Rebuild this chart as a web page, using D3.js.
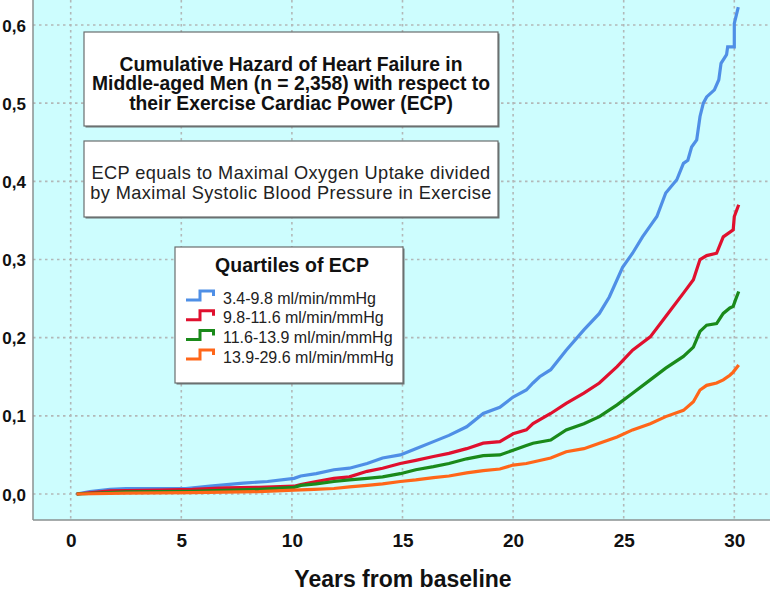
<!DOCTYPE html>
<html>
<head>
<meta charset="utf-8">
<script src="https://cdn.jsdelivr.net/npm/d3@7"></script>
<style>
  html, body { margin: 0; padding: 0; background: #ffffff; }
  svg { display: block; }
  text { font-family: "Liberation Sans", Arial, sans-serif; }
</style>
</head>
<body>
<svg id="chart" width="772" height="591"></svg>
<script>
// ---------------- DATA ----------------
const xTicks = [0, 5, 10, 15, 20, 25, 30];
const yTicks = [0, 0.1, 0.2, 0.3, 0.4, 0.5, 0.6];
const yTickLabels = ["0,0", "0,1", "0,2", "0,3", "0,4", "0,5", "0,6"];
const xAxisTitle = "Years from baseline";
const titleLines = [
  "Cumulative Hazard of Heart Failure in",
  "Middle-aged Men (n = 2,358) with respect to",
  "their Exercise Cardiac Power (ECP)"
];
const noteLines = [
  "ECP equals to Maximal Oxygen Uptake divided",
  "by Maximal Systolic Blood Pressure in Exercise"
];
const legendTitle = "Quartiles of ECP";
const seriesNames = [
  "3.4-9.8 ml/min/mmHg",
  "9.8-11.6 ml/min/mmHg",
  "11.6-13.9 ml/min/mmHg",
  "13.9-29.6 ml/min/mmHg"
];
const seriesColors = ["#4f8fe6", "#e0102e", "#1a8a1a", "#ff6619"];

// [years, cumulative hazard]
const q1 = [[0.27,0],[0.87,0.003],[1.78,0.006],[2.5,0.007],[4.0,0.007],[5.2,0.007],[6.3,0.010],[7.8,0.014],[8.9,0.016],[10.1,0.020],[10.4,0.023],[11.1,0.026],[11.9,0.031],[12.6,0.033],[13.4,0.039],[14.1,0.046],[14.9,0.050],[15.6,0.058],[16.4,0.067],[17.1,0.075],[17.9,0.086],[18.65,0.103],[19.4,0.111],[20.0,0.124],[20.6,0.133],[20.9,0.142],[21.2,0.150],[21.7,0.159],[22.4,0.184],[23.2,0.210],[23.9,0.231],[24.35,0.252],[24.95,0.290],[25.4,0.308],[25.85,0.329],[26.2,0.343],[26.5,0.355],[26.9,0.385],[27.4,0.402],[27.7,0.423],[27.9,0.427],[28.07,0.444],[28.3,0.453],[28.45,0.483],[28.6,0.500],[28.75,0.508],[29.1,0.517],[29.3,0.530],[29.4,0.551],[29.65,0.562],[29.7,0.572],[30.0,0.572],[30.0,0.602],[30.18,0.623]];
const q2 = [[0.27,0],[1.78,0.004],[4.0,0.005],[5.5,0.006],[7.0,0.008],[8.5,0.0085],[10.1,0.010],[10.4,0.012],[11.1,0.016],[11.9,0.020],[12.6,0.022],[13.4,0.029],[14.1,0.033],[14.9,0.039],[15.6,0.043],[16.4,0.048],[17.1,0.052],[17.9,0.058],[18.65,0.065],[19.4,0.067],[20.0,0.077],[20.6,0.082],[20.9,0.090],[21.7,0.103],[22.4,0.116],[23.2,0.129],[23.9,0.142],[24.7,0.163],[25.4,0.184],[26.2,0.201],[26.9,0.227],[27.7,0.257],[28.15,0.274],[28.45,0.300],[28.75,0.305],[29.2,0.308],[29.5,0.329],[29.95,0.338],[30.0,0.355],[30.2,0.370]];
const q3 = [[0.27,0],[2.5,0.0026],[5.5,0.0035],[8.5,0.006],[10.1,0.0085],[10.4,0.011],[11.1,0.013],[11.9,0.016],[12.6,0.018],[13.4,0.020],[14.1,0.022],[14.9,0.026],[15.6,0.031],[16.4,0.035],[17.1,0.039],[17.9,0.045],[18.65,0.049],[19.4,0.050],[20.0,0.056],[20.6,0.062],[20.9,0.065],[21.7,0.069],[22.4,0.082],[23.2,0.090],[23.9,0.099],[24.7,0.114],[25.4,0.129],[26.2,0.146],[26.9,0.161],[27.7,0.176],[28.15,0.188],[28.45,0.208],[28.75,0.216],[29.2,0.218],[29.5,0.231],[29.8,0.238],[29.95,0.240],[30.05,0.248],[30.2,0.259]];
const q4 = [[0.27,0],[2.5,0.001],[5.5,0.0017],[8.5,0.003],[10.1,0.005],[11.0,0.006],[11.9,0.007],[12.6,0.009],[13.4,0.011],[14.1,0.013],[14.9,0.016],[15.6,0.018],[16.4,0.021],[17.1,0.023],[17.9,0.027],[18.65,0.030],[19.4,0.032],[20.0,0.037],[20.6,0.039],[20.9,0.041],[21.7,0.046],[22.4,0.054],[23.2,0.058],[23.9,0.065],[24.7,0.073],[25.4,0.082],[26.2,0.090],[26.9,0.099],[27.7,0.107],[28.15,0.118],[28.45,0.133],[28.75,0.139],[29.2,0.142],[29.5,0.146],[29.8,0.152],[29.95,0.156],[30.2,0.165]];
const seriesData = [q1, q2, q3, q4];

// ---------------- LAYOUT ----------------
const svg = d3.select("#chart");
const plot = { left: 33, right: 770, top: 0, bottom: 520 };

const x = d3.scaleLinear().domain([0, 30]).range([70.7, 734.3]);
const y = d3.scaleLinear().domain([0, 0.6]).range([494, 25]);

// plot background
svg.append("rect")
  .attr("x", plot.left).attr("y", plot.top)
  .attr("width", plot.right - plot.left).attr("height", plot.bottom - plot.top)
  .attr("fill", "#cdfdfe");

// grid
const grid = svg.append("g").attr("stroke", "#b2b8b8").attr("stroke-width", 1.6)
  .attr("stroke-dasharray", "2.5,3.5");
grid.selectAll("line.v").data(xTicks).join("line")
  .attr("x1", d => x(d)).attr("x2", d => x(d))
  .attr("y1", plot.top).attr("y2", plot.bottom);
grid.selectAll("line.h").data(yTicks).join("line")
  .attr("x1", plot.left).attr("x2", plot.right)
  .attr("y1", d => y(d)).attr("y2", d => y(d));

// axes (D3 axes, no tick marks; styled to match)
const xAxis = d3.axisBottom(x).tickValues(xTicks).tickSize(0).tickPadding(10)
  .tickFormat(d3.format("d"));
const gx = svg.append("g").attr("transform", `translate(0,${plot.bottom})`).call(xAxis);
gx.select(".domain").remove();
gx.selectAll("text").attr("font-family", "Liberation Sans, Arial, sans-serif")
  .attr("font-size", 19).attr("font-weight", "bold").attr("fill", "#111")
  .attr("dy", null).attr("y", 27);

const yAxis = d3.axisLeft(y).tickValues(yTicks).tickSize(0).tickPadding(6)
  .tickFormat((d, i) => yTickLabels[i]);
const gy = svg.append("g").attr("transform", `translate(${plot.left},0)`).call(yAxis);
gy.select(".domain").remove();
gy.selectAll("text").attr("font-family", "Liberation Sans, Arial, sans-serif")
  .attr("font-size", 17).attr("font-weight", "bold").attr("fill", "#111")
  .attr("x", -7).attr("dy", "0.36em");

// axis frame lines
svg.append("line").attr("x1", plot.left).attr("x2", plot.left)
  .attr("y1", plot.top).attr("y2", plot.bottom)
  .attr("stroke", "#8a9090").attr("stroke-width", 1.5);
svg.append("line").attr("x1", plot.left).attr("x2", plot.right)
  .attr("y1", plot.bottom).attr("y2", plot.bottom)
  .attr("stroke", "#8a9090").attr("stroke-width", 1.5);

// x axis title
svg.append("text").attr("x", 403).attr("y", 587).attr("text-anchor", "middle")
  .attr("font-size", 23).attr("font-weight", "bold").attr("fill", "#111")
  .text(xAxisTitle);

// curves
const line = d3.line().x(d => x(d[0])).y(d => y(d[1])).curve(d3.curveLinear);
svg.append("g").selectAll("path").data(seriesData).join("path")
  .attr("d", line)
  .attr("fill", "none")
  .attr("stroke", (d, i) => seriesColors[i])
  .attr("stroke-width", 3.2)
  .attr("stroke-linejoin", "miter");

// boxes helper
function box(x0, y0, x1, y1) {
  svg.append("rect").attr("x", x0 + 1.5).attr("y", y0 + 1.5)
    .attr("width", x1 - x0).attr("height", y1 - y0).attr("fill", "#6f7373");
  svg.append("rect").attr("x", x0).attr("y", y0)
    .attr("width", x1 - x0).attr("height", y1 - y0)
    .attr("fill", "#ffffff").attr("stroke", "#6a6e6e").attr("stroke-width", 1.2);
}

// title box
box(84, 32, 498, 126);
svg.append("g").selectAll("text").data(titleLines).join("text")
  .attr("x", 291).attr("y", (d, i) => 70.5 + i * 19.7)
  .attr("text-anchor", "middle").attr("font-size", 19.3).attr("font-weight", "bold")
  .attr("fill", "#111").text(d => d);

// note box
box(84, 141, 498, 217);
svg.append("g").selectAll("text").data(noteLines).join("text")
  .attr("x", 291).attr("y", (d, i) => 178.5 + i * 20.6)
  .attr("text-anchor", "middle").attr("font-size", 18.2)
  .attr("letter-spacing", 0.4)
  .attr("fill", "#222").text(d => d);

// legend box
box(175, 247, 403, 383);
svg.append("text").attr("x", 292).attr("y", 272).attr("text-anchor", "middle")
  .attr("font-size", 19.5).attr("font-weight", "bold").attr("fill", "#111")
  .text(legendTitle);
const lg = svg.append("g").selectAll("g").data(seriesNames).join("g")
  .attr("transform", (d, i) => `translate(0,${298 + i * 19.7})`);
lg.append("path")
  .attr("d", "M186,2 H200 V-7 H213.5 V-2")
  .attr("fill", "none").attr("stroke-width", 3)
  .attr("stroke", (d, i) => seriesColors[i]);
lg.append("text").attr("x", 223).attr("y", 5.5)
  .attr("font-size", 16).attr("fill", "#222").text(d => d);
</script>
</body>
</html>
